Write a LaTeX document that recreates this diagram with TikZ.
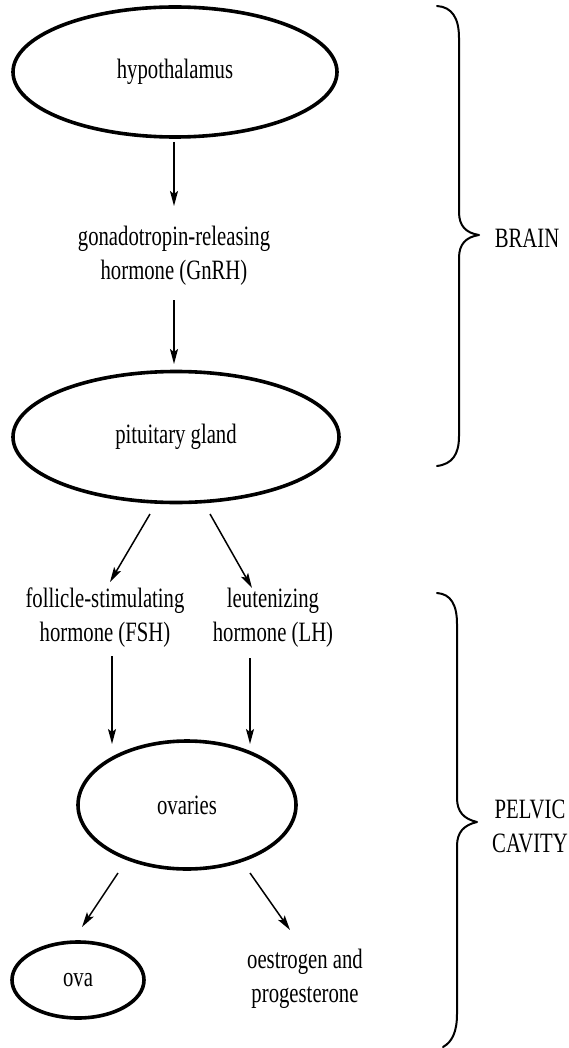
\documentclass[tikz,border=0pt]{standalone}
\usepackage{fontspec}
\setmainfont{Liberation Serif}[FakeStretch=0.74]
\usetikzlibrary{shapes.geometric,arrows.meta}
\begin{document}
\begin{tikzpicture}[x=1pt,y=-1pt,
  every node/.style={font=\fontsize{28}{34}\selectfont, align=center, inner sep=0pt},
  organ/.style={draw, ellipse, line width=3.6pt},
  arr/.style={line width=1.5pt, -{Stealth[length=15pt,width=8pt,inset=3pt]}},
  brc/.style={line width=2pt, line cap=round, line join=round}]
\useasboundingbox (0,0) rectangle (569,1048);
% nodes
\node[organ, minimum width=324pt, minimum height=130pt] (hyp) at (175,72) {hypothalamus};
\node (gnrh) at (174,256) {gonadotropin-releasing\\hormone (GnRH)};
\node[organ, minimum width=326pt, minimum height=131pt] (pit) at (176,437) {pituitary gland};
\node (fsh) at (105,618) {follicle-stimulating\\hormone (FSH)};
\node (lh) at (273,618) {leutenizing\\hormone (LH)};
\node[organ, minimum width=218pt, minimum height=128pt] (ovr) at (187,805) {ovaries};
\node[organ, minimum width=132pt, minimum height=76pt] (ova) at (78,980) {ova};
\node (oes) at (305,979) {oestrogen and\\progesterone};
\node (brain) at (527,238) {BRAIN};
\node (pelvic) at (530,826) {PELVIC\\CAVITY};
% arrow end points
\coordinate (h1) at (174,142);
\coordinate (h1e) at (174,206);
\coordinate (g1) at (174,300);
\coordinate (g1e) at (174,364);
\coordinate (p1) at (150,514);
\coordinate (p1e) at (110,582);
\coordinate (p2) at (210,514);
\coordinate (p2e) at (252,588);
\coordinate (f1) at (112,656);
\coordinate (f1e) at (112,744);
\coordinate (l1) at (250,658);
\coordinate (l1e) at (250,744);
\coordinate (o1) at (118,873);
\coordinate (o1e) at (82,927);
\coordinate (o2) at (250,873);
\coordinate (o2e) at (290,930);
% connectors
\draw[arr] (h1) -- (h1e);
\draw[arr] (g1) -- (g1e);
\draw[arr] (p1) -- (p1e);
\draw[arr] (p2) -- (p2e);
\draw[arr] (f1) -- (f1e);
\draw[arr] (l1) -- (l1e);
\draw[arr] (o1) -- (o1e);
\draw[arr] (o2) -- (o2e);
% braces
\draw[brc] (437,6) .. controls (452,7) and (459,18) .. (459,38) -- (459,212)
  .. controls (459,226) and (466,233) .. (479,235)
  .. controls (466,237) and (459,244) .. (459,258) -- (459,436)
  .. controls (459,455) and (452,464) .. (437,466);
\draw[brc] (437,593) .. controls (451,594) and (457,605) .. (457,624) -- (457,798)
  .. controls (457,812) and (464,819) .. (477,822)
  .. controls (464,825) and (457,832) .. (457,846) -- (457,1014)
  .. controls (457,1032) and (452,1042) .. (443,1047);
\end{tikzpicture}
\end{document}
